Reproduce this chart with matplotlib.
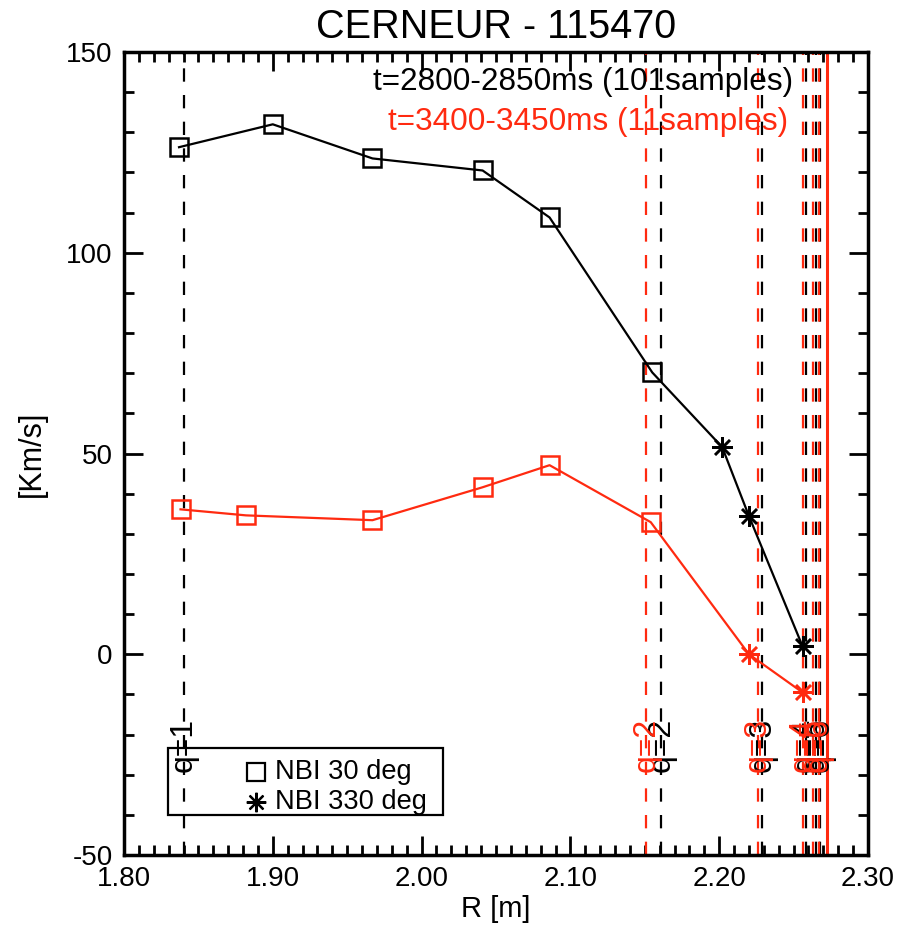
import numpy as np
import matplotlib.pyplot as plt
from matplotlib.ticker import MultipleLocator, FormatStrFormatter
from matplotlib.patches import Rectangle

plt.rcParams['font.family'] = ['Liberation Sans', 'DejaVu Sans']
plt.rcParams['axes.unicode_minus'] = False

# t=2800-2850ms (black)
r_30_a = [1.837, 1.900, 1.967, 2.041, 2.086, 2.155]
v_30_a = [126.3, 132.0, 123.5, 120.5, 108.8, 70.2]
r_330_a = [2.202, 2.220, 2.256]
v_330_a = [51.6, 34.4, 2.0]

# t=3400-3450ms (red)
r_30_b = [1.838, 1.882, 1.967, 2.041, 2.086, 2.154]
v_30_b = [36.1, 34.6, 33.4, 41.6, 47.1, 32.9]
r_330_b = [2.220, 2.256]
v_330_b = [0.0, -9.5]

# rational surface positions
q_black = [1.840, 2.161, 2.229, 2.258, 2.265, 2.268]
q_black_lab = ['q=1', 'q=2', 'q=3', 'q=4', 'q=5', 'q=6']
q_red = [2.151, 2.226, 2.256, 2.263, 2.267]
q_red_lab = ['q=2', 'q=3', 'q=4', 'q=5', 'q=6']
r_sep = 2.2725

RED = '#ff2a10'
DASH = (0, (6, 6))

fig = plt.figure(figsize=(9.01, 9.36), dpi=100)
ax = fig.add_axes([0.1376, 0.0865, 0.8258, 0.8579])

for x in q_black:
    ax.axvline(x, color='black', ls=DASH, lw=1.6)
for x in q_red:
    ax.axvline(x, color=RED, ls=DASH, lw=1.6)
ax.axvline(r_sep, color=RED, lw=2.2)

for x, lab in zip(q_black, q_black_lab):
    ax.text(x, -22.5, lab, rotation=90, ha='center', va='center', fontsize=23, color='black')
for x, lab in zip(q_red, q_red_lab):
    ax.text(x, -22.5, lab, rotation=90, ha='center', va='center', fontsize=23, color=RED)

star = (8, 2, 0)

# black series (line through all points)
ax.plot(r_30_a + r_330_a, v_30_a + v_330_a, color='black', lw=1.6)
ax.plot(r_30_a, v_30_a, ls='none', marker='s', ms=13, mfc='none', mec='black', mew=1.8)
ax.plot(r_330_a, v_330_a, ls='none', marker=star, ms=15, color='black', mew=1.8)

ax.plot(r_30_b + r_330_b, v_30_b + v_330_b, color=RED, lw=1.6)
ax.plot(r_30_b, v_30_b, ls='none', marker='s', ms=13, mfc='none', mec=RED, mew=1.8)
ax.plot(r_330_b, v_330_b, ls='none', marker=star, ms=15, color=RED, mew=1.8)

ax.set_xlim(1.80, 2.30)
ax.set_ylim(-50, 150)
ax.xaxis.set_major_locator(MultipleLocator(0.1))
ax.xaxis.set_minor_locator(MultipleLocator(0.01))
ax.xaxis.set_major_formatter(FormatStrFormatter('%.2f'))
ax.yaxis.set_major_locator(MultipleLocator(50))
ax.yaxis.set_minor_locator(MultipleLocator(10))
ax.tick_params(which='both', direction='in', top=True, right=True, labelsize=20, width=2, pad=8)
ax.tick_params(which='major', length=14)
ax.tick_params(which='minor', length=7)
for s in ax.spines.values():
    s.set_linewidth(2.5)

ax.set_xlabel('R [m]', fontsize=21, labelpad=2)
ax.set_ylabel('[Km/s]', fontsize=22, labelpad=14)
ax.set_title('CERNEUR - 115470', fontsize=28.5, pad=10)

ax.text(0.90, 0.963, 't=2800-2850ms (101samples)', transform=ax.transAxes,
        ha='right', va='center', fontsize=22.7, color='black')
ax.text(0.893, 0.913, 't=3400-3450ms (11samples)', transform=ax.transAxes,
        ha='right', va='center', fontsize=22.7, color=RED)

# legend box
ax.add_patch(Rectangle((0.059, 0.05), 0.37, 0.083, transform=ax.transAxes,
                       fill=False, ec='black', lw=1.6))
ax.plot([0.177], [0.103], transform=ax.transAxes, marker='s', ms=13, mfc='none', mec='black', mew=1.6)
ax.plot([0.177], [0.066], transform=ax.transAxes, marker=star, ms=14, color='black', mew=1.6)
ax.text(0.203, 0.103, 'NBI 30 deg', transform=ax.transAxes, fontsize=19.6, va='center')
ax.text(0.203, 0.066, 'NBI 330 deg', transform=ax.transAxes, fontsize=19.6, va='center')

fig.savefig('out.png', dpi=100)
